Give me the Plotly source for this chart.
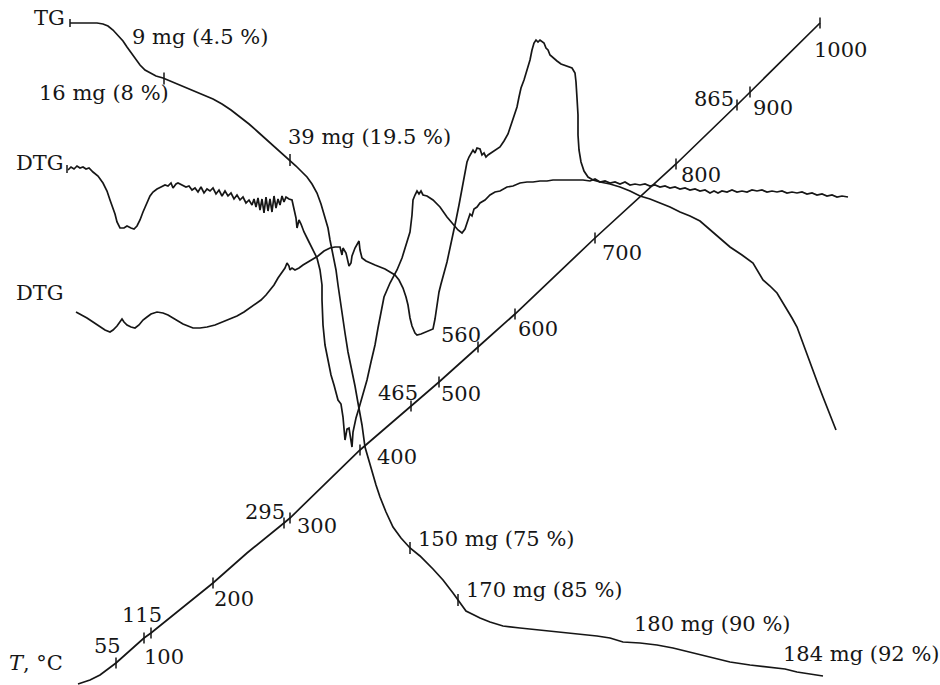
import plotly.graph_objects as go
import numpy as np

# Chart canvas in pixel units (x to the right, y downward)
W, H = 940, 685
INK = "#161616"
FONT = dict(family="DejaVu Serif", size=21, color=INK)

# ---- TG curve (mass loss) ----
tg_x = [70, 80, 90, 97, 103, 108, 113, 118, 123, 127, 132, 136, 140, 145, 150, 156, 163, 170, 178,
        187, 195, 204, 213, 222, 231, 240, 249, 258, 267, 275, 283, 290, 296, 302, 307, 312, 317,
        321, 325, 328, 330, 333, 336, 338, 340, 342, 345, 348, 352, 355, 358, 362, 365, 368, 372,
        376, 380, 386, 393, 401, 410, 420, 433, 443, 453, 458, 462, 466, 472, 480, 490, 503, 520,
        540, 560, 580, 597, 610, 623, 640, 657, 673, 690, 710, 730, 750, 770, 785, 797, 810, 823]
tg_y = [23, 23, 23, 23, 24, 26, 30, 35, 41, 47, 54, 60, 65, 70, 73, 76, 78, 81, 84,
        88, 91, 95, 99, 104, 110, 117, 124, 132, 140, 147, 154, 160, 166, 172, 177, 184, 193,
        204, 217, 228, 240, 255, 270, 285, 300, 315, 333, 352, 370, 386, 403, 425, 447, 458, 470,
        485, 497, 512, 527, 538, 548, 556, 569, 580, 593, 600, 606, 611, 614, 618, 622, 626, 628,
        630, 632, 634, 636, 638, 642, 643, 645, 648, 652, 657, 662, 665, 667, 669, 672, 674, 676]
# TG marks and their mass-loss labels
tg_mark_x = [164, 290, 410, 458]
tg_labels = ["9 mg (4.5 %)", "16 mg (8 %)", "39 mg (19.5 %)", "150 mg (75 %)",
             "170 mg (85 %)", "180 mg (90 %)", "184 mg (92 %)"]
tg_label_x = [131, 38, 287, 417, 465, 633, 782]
tg_label_y = [37, 93, 137, 539, 590, 624, 654]

# ---- upper DTG curve ----
dtg1_x = [68, 71, 74, 77, 80, 83, 86, 89, 93, 98, 103, 107, 110, 113, 115, 117, 120, 124, 127, 131,
          134, 137, 140, 143, 147, 150, 153, 157, 161, 165, 168, 171, 173, 176, 178, 182, 186, 189,
          192, 195, 198, 201, 204, 207, 210, 213, 216, 219, 222, 225, 228, 231, 234, 237, 240, 243,
          246, 249, 252, 254, 256, 258, 260, 262, 264, 266, 268, 270, 272, 274, 276, 278, 280, 282,
          284, 286, 289, 292, 294, 296, 297, 299, 301, 304, 308, 313, 317, 320, 322, 322, 323, 325,
          328, 331, 334, 338, 341, 343, 345, 347, 349, 350, 352, 353, 356, 359, 363, 367, 371, 375,
          378, 381, 384, 390, 397, 402, 406, 410, 412, 413, 415, 417, 419, 421, 423, 427, 433, 440,
          447, 453, 458, 462, 465, 467, 470, 472, 474, 477, 480, 485, 490, 495, 500, 507, 513, 520,
          527, 533, 540, 547, 553, 560, 567, 575, 583, 590, 595, 600, 605, 610, 615, 620, 625, 630,
          635, 640, 645, 650, 655, 660, 665, 670, 675, 680, 685, 690, 695, 700, 705, 710, 714, 718,
          722, 727, 732, 737, 742, 747, 752, 757, 762, 767, 772, 777, 782, 787, 792, 797, 802, 807,
          812, 817, 822, 827, 832, 837, 842, 848]
dtg1_y = [170, 167, 169, 166, 168, 167, 169, 168, 172, 176, 183, 191, 200, 208, 214, 222, 228, 228, 226, 228,
          229, 226, 220, 212, 203, 196, 192, 189, 187, 185, 186, 183, 188, 184, 183, 185, 187, 186,
          190, 188, 192, 187, 193, 189, 191, 188, 194, 190, 196, 191, 196, 193, 199, 195, 200, 197,
          203, 200, 205, 199, 207, 198, 210, 199, 213, 197, 211, 199, 212, 196, 208, 199, 205, 196,
          202, 197, 199, 200, 208, 218, 228, 220, 224, 232, 240, 250, 258, 270, 285, 300, 325, 345,
          360, 375, 385, 400, 404, 417, 440, 429, 428, 434, 447, 432, 418, 408, 395, 380, 362, 345,
          328, 312, 297, 283, 270, 258, 246, 232, 215, 200, 195, 191, 194, 191, 195, 196, 200, 207,
          217, 224, 230, 233, 229, 223, 214, 216, 209, 207, 203, 200, 195, 192, 191, 187, 186, 183,
          182, 182, 181, 181, 180, 180, 180, 180, 180, 181, 179, 182, 181, 183, 182, 184, 182, 185,
          184, 185, 184, 186, 185, 187, 186, 188, 187, 189, 188, 190, 189, 191, 190, 193, 191, 193,
          191, 192, 190, 192, 191, 192, 190, 191, 190, 192, 191, 192, 191, 193, 192, 193, 192, 194,
          193, 195, 194, 196, 195, 197, 196, 197]

# ---- lower DTG curve ----
dtg2_x = [76, 82, 87, 93, 100, 105, 110, 113, 117, 120, 122, 124, 127, 131, 135, 139, 143, 147, 151,
          157, 163, 168, 173, 178, 183, 188, 193, 200, 207, 215, 222, 230, 237, 244, 250, 256, 261,
          266, 270, 274, 278, 282, 285, 287, 289, 290, 292, 295, 299, 303, 308, 313, 318, 324, 330,
          335, 340, 342, 343, 346, 349, 351, 352, 355, 357, 359, 360, 362, 366, 370, 375, 380, 385,
          390, 395, 399, 403, 406, 408, 410, 412, 415, 417, 421, 426, 430, 433, 435, 437, 439, 441,
          444, 447, 450, 453, 456, 459, 462, 465, 467, 469, 471, 473, 475, 477, 480, 482, 484, 486,
          488, 491, 495, 500, 504, 508, 511, 514, 517, 519, 521, 524, 527, 530, 532, 534, 536, 538,
          540, 542, 544, 546, 548, 550, 553, 557, 561, 566, 572, 575, 576, 577, 578, 578, 579, 581,
          584, 588, 593, 600, 610, 620, 630, 640, 650, 660, 670, 680, 690, 700, 710, 720, 730, 742,
          753, 763, 770, 777, 782, 787, 792, 797, 802, 808, 813, 818, 823, 828, 832, 836]
dtg2_y = [312, 315, 318, 322, 327, 330, 332, 330, 326, 321, 319, 322, 325, 327, 328, 325, 320, 317, 314,
          312, 313, 315, 318, 321, 324, 326, 328, 328, 327, 325, 322, 319, 316, 312, 308, 304, 300,
          295, 290, 285, 278, 272, 268, 263, 266, 270, 268, 270, 268, 265, 262, 259, 256, 251, 248,
          247, 247, 255, 248, 253, 266, 263, 256, 248, 245, 241, 250, 258, 261, 263, 265, 267, 269,
          272, 275, 280, 288, 297, 305, 318, 326, 333, 335, 334, 332, 331, 329, 319, 305, 292, 284,
          274, 262, 248, 235, 220, 205, 190, 175, 162, 157, 154, 150, 153, 148, 149, 155, 153, 157,
          155, 153, 150, 147, 141, 134, 125, 115, 107, 97, 88, 80, 70, 60, 50, 43, 40, 42,
          40, 42, 43, 48, 50, 55, 58, 61, 64, 66, 68, 73, 82, 98, 115, 135, 150, 162,
          171, 177, 180, 182, 184, 187, 191, 196, 199, 203, 207, 212, 216, 221, 230, 238, 247, 255,
          263, 280, 286, 293, 301, 310, 318, 327, 341, 356, 370, 384, 397, 410, 420, 430]

# ---- temperature axis (T, degrees C) ----
t_axis_T = [20, 30, 40, 48, 55, 100, 115, 200, 250, 295, 300, 400, 465, 500, 560, 600, 700, 800, 865, 900, 1000]
t_axis_x = [78, 90, 100, 110, 116, 144, 151, 213, 247, 284, 290, 360, 411, 439, 478, 515, 595, 676, 737, 750, 820]
t_axis_y = [684, 680, 675, 668, 663, 638, 633, 583, 553, 523, 518, 450, 406, 382, 347, 314, 238, 164, 105, 92, 23]
t_ticks = [55, 100, 115, 200, 295, 300, 400, 465, 500, 560, 600, 700, 800, 865, 900, 1000]
t_tick_labels = ["55", "100", "115", "200", "295", "300", "400", "465", "500", "560", "600",
                 "700", "800", "865", "900", "1000"]
t_label_x = [93, 143, 121, 213, 244, 296, 376, 377, 440, 440, 517, 601, 680, 693, 752, 813]
t_label_y = [646, 657, 615, 599, 512, 526, 457, 393, 394, 335, 329, 253, 175, 99, 108, 50]

# curve names at the left edge
name_labels = ["TG", "DTG", "DTG", "<i>T</i>, °C"]
name_x = [33, 15, 15, 8]
name_y = [18, 163, 293, 663]
# small end marks on the TG and upper DTG starting points
start_mark_x = [70, 67]
start_mark_y = [23, 169]


def seg_trace(xs, ys, half):
    """Short vertical marks centred on the given points."""
    sx, sy = [], []
    for x, y in zip(xs, ys):
        sx += [x, x, None]
        sy += [y - half, y + half, None]
    return go.Scatter(x=sx, y=sy, mode="lines", line=dict(color=INK, width=1.5),
                      hoverinfo="skip", showlegend=False)


line_style = dict(color=INK, width=1.7)
fig = go.Figure()
fig.add_trace(go.Scatter(x=tg_x, y=tg_y, mode="lines", line=line_style, name="TG", showlegend=False))
fig.add_trace(go.Scatter(x=dtg1_x, y=dtg1_y, mode="lines", line=line_style, name="DTG", showlegend=False))
fig.add_trace(go.Scatter(x=dtg2_x, y=dtg2_y, mode="lines", line=line_style, name="DTG", showlegend=False))
fig.add_trace(go.Scatter(x=t_axis_x, y=t_axis_y, mode="lines", line=line_style, name="T", showlegend=False))

# temperature ticks placed along the axis path
tick_px = np.interp(t_ticks, t_axis_T, t_axis_x)
tick_py = np.interp(t_ticks, t_axis_T, t_axis_y)
fig.add_trace(seg_trace(tick_px, tick_py, 5.5))

# marks on the TG curve
mark_py = np.interp(tg_mark_x, tg_x, tg_y)
fig.add_trace(seg_trace(tg_mark_x, mark_py, 6))

# start marks
fig.add_trace(seg_trace(start_mark_x, start_mark_y, 4))

annotations = []
for txt, x, y in zip(tg_labels + t_tick_labels + name_labels,
                     tg_label_x + t_label_x + name_x,
                     tg_label_y + t_label_y + name_y):
    annotations.append(dict(text=txt, x=x, y=y, xref="x", yref="y", xanchor="left",
                            yanchor="middle", showarrow=False, font=FONT, borderpad=0))

fig.update_layout(
    width=W, height=H,
    margin=dict(l=0, r=0, t=0, b=0),
    paper_bgcolor="white", plot_bgcolor="white",
    xaxis=dict(range=[0, W], visible=False, fixedrange=True),
    yaxis=dict(range=[H, 0], visible=False, fixedrange=True),
    annotations=annotations,
    showlegend=False,
)

fig.write_html("out.html")
